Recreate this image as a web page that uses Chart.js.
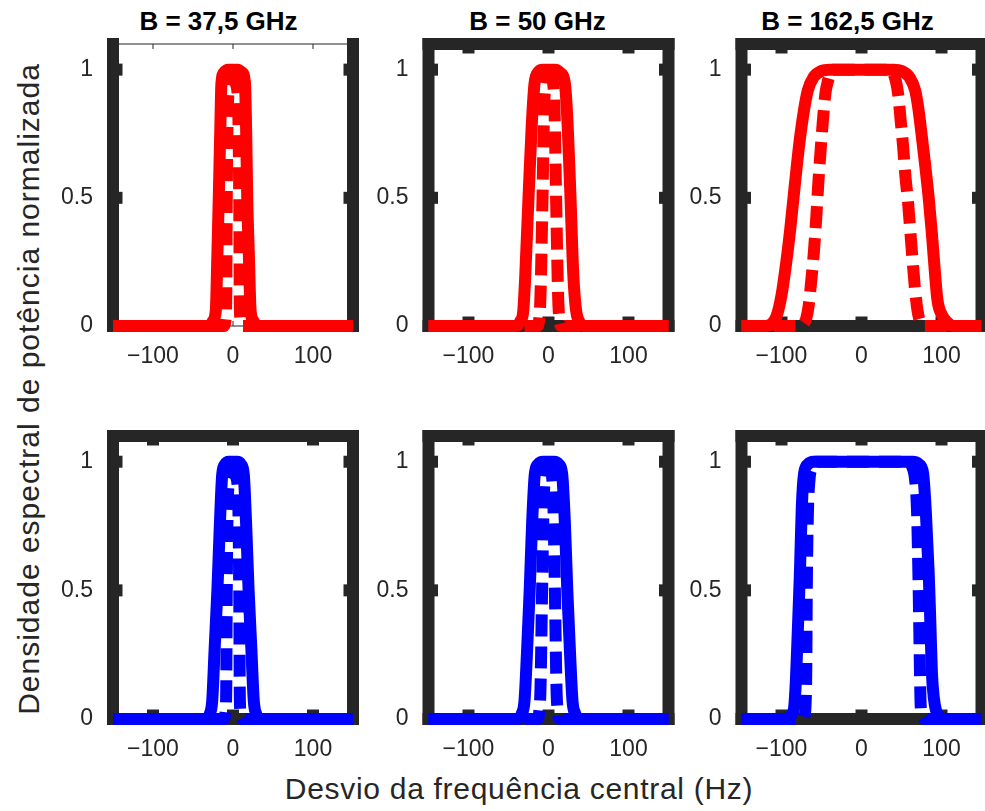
<!DOCTYPE html>
<html>
<head>
<meta charset="utf-8">
<script src="https://cdn.jsdelivr.net/npm/chart.js@4.4.1/dist/chart.umd.min.js"></script>
<style>
    html, body { margin: 0; padding: 0; background: #fff; }
    #wrap { position: relative; width: 985px; height: 811px; overflow: hidden; font-family: "Liberation Sans", Arial, sans-serif; }
    #wrap canvas { position: absolute; left: 0; top: 0; }
    .ttl { position: absolute; top: 8px; font-weight: bold; font-size: 26px; line-height: 26px; color: #000; white-space: nowrap; transform: translateX(-50%); }
    .xlab { position: absolute; left: 519px; top: 774px; font-size: 30px; line-height: 30px; letter-spacing: 0.7px; color: #262626; white-space: nowrap; transform: translateX(-50%); }
    .ylab { position: absolute; left: 29px; top: 389px; font-size: 30px; line-height: 30px; letter-spacing: 1px; color: #262626; white-space: nowrap; transform: translate(-50%, -50%) rotate(-90deg); }
</style>
</head>
<body>
<div id="wrap">
    <div class="ylab">Densidade espectral de potência normalizada</div>
    <div class="xlab">Desvio da frequência central (Hz)</div>
</div>
<script>
// tick values and titles
const xTicks = [-100, 0, 100];
const yTicks = [0, 0.5, 1];
const titles = ['B = 37,5 GHz', 'B = 50 GHz', 'B = 162,5 GHz'];

// red row (top)
const redSolid375X = [-150, -29, -25, -21.5, -19.5, -17.8, -16, -14.5, -11, -6, 0, 6, 11, 15, 16.5, 17.8, 19.8, 22, 25.5, 29.5, 150];
const redSolid375Y = [0, 0, 0.02, 0.06, 0.28, 0.5, 0.75, 0.945, 0.99, 1, 1, 1, 0.99, 0.945, 0.75, 0.5, 0.28, 0.06, 0.02, 0, 0];
const redDash375X = [-150, -11.5, -9.5, -8.5, -7.8, -6.5, -4, -1, 1, 4, 6.5, 7.8, 8.5, 9.5, 11.5, 150];
const redDash375Y = [0, 0, 0.02, 0.1, 0.5, 0.85, 0.94, 0.96, 0.96, 0.94, 0.85, 0.5, 0.1, 0.02, 0, 0];

const redSolid50X = [-150, -40, -35, -31.5, -29, -25, -21, -17.5, -13, -7, 0, 8, 14, 20.5, 24, 27.5, 31, 34.5, 38, 43, 150];
const redSolid50Y = [0, 0, 0.02, 0.06, 0.2, 0.5, 0.78, 0.945, 0.99, 1, 1, 1, 0.99, 0.945, 0.78, 0.5, 0.2, 0.06, 0.02, 0, 0];
const redDash50X = [-150, -14, -11.5, -10, -7.5, -5.5, -2.5, 1, 4.5, 7.5, 9.5, 12, 13.5, 16, 150];
const redDash50Y = [0, 0, 0.03, 0.12, 0.5, 0.85, 0.96, 0.97, 0.96, 0.85, 0.5, 0.12, 0.03, 0, 0];

const redSolid162X = [-150, -120, -112, -106, -100, -94, -89, -85, -81, -77, -72, -67, -60, -50, -40, 0, 40, 50, 60, 67, 71, 75, 79.5, 84, 88, 92, 95, 101, 107, 115, 150];
const redSolid162Y = [0, 0, 0.01, 0.04, 0.12, 0.25, 0.38, 0.5, 0.62, 0.73, 0.84, 0.92, 0.97, 0.995, 1, 1, 1, 0.995, 0.97, 0.92, 0.85, 0.75, 0.63, 0.5, 0.36, 0.2, 0.1, 0.04, 0.015, 0, 0];
const redDash162X = [-150, -76, -72, -69, -66, -63, -59.5, -56, -54, -51, -48, -45, -42, -36, 0, 36, 43, 46, 49, 52, 55, 58, 61, 64, 67, 70, 73, 77, 150];
const redDash162Y = [0, 0, 0.01, 0.03, 0.08, 0.17, 0.29, 0.45, 0.555, 0.69, 0.81, 0.91, 0.955, 1, 1, 1, 0.955, 0.9, 0.8, 0.7, 0.58, 0.49, 0.37, 0.25, 0.14, 0.06, 0.02, 0, 0];

// blue row (bottom)
const blueSolid375X = [-150, -33, -29, -26, -23, -19.5, -16.5, -13.5, -10, -5, 0, 5, 10, 13.5, 16.5, 19.5, 23, 26, 29, 33, 150];
const blueSolid375Y = [0, 0, 0.02, 0.07, 0.27, 0.5, 0.75, 0.95, 0.99, 1, 1, 1, 0.99, 0.95, 0.75, 0.5, 0.27, 0.07, 0.02, 0, 0];
const blueDash375X = [-150, -11.5, -9.5, -8.5, -7.8, -6.5, -4, -1, 1, 4, 6.5, 7.8, 8.5, 9.5, 11.5, 150];
const blueDash375Y = [0, 0, 0.02, 0.1, 0.5, 0.85, 0.94, 0.96, 0.96, 0.94, 0.85, 0.5, 0.1, 0.02, 0, 0];

const blueSolid50X = [-150, -38, -33.5, -30, -27, -23.5, -20.5, -17, -13, -7, 0, 7, 13, 17, 20.5, 23.5, 27, 30, 33.5, 38, 150];
const blueSolid50Y = [0, 0, 0.02, 0.07, 0.25, 0.5, 0.76, 0.955, 0.99, 1, 1, 1, 0.99, 0.955, 0.76, 0.5, 0.25, 0.07, 0.02, 0, 0];
const blueDash50X = [-150, -14, -11.5, -10, -8, -6, -3, 0, 3, 6, 8, 10, 11.5, 14, 150];
const blueDash50Y = [0, 0, 0.03, 0.12, 0.5, 0.85, 0.96, 0.97, 0.96, 0.85, 0.5, 0.12, 0.03, 0, 0];

const blueSolid162X = [-150, -95, -89, -86, -84, -82, -80, -77, -74.6, -71.7, -67, -60, 0, 64, 72, 77, 80.5, 84, 86, 88, 90.5, 93, 97, 103, 150];
const blueSolid162Y = [0, 0, 0.01, 0.025, 0.05, 0.15, 0.31, 0.567, 0.826, 0.956, 0.99, 1, 1, 1, 0.99, 0.956, 0.8, 0.567, 0.38, 0.18, 0.08, 0.035, 0.01, 0, 0];
const blueDash162X = [-150, -74, -71.5, -70, -69, -68.4, -67, -65, -62, -57, -50, 0, 52, 59, 64, 67, 69.5, 71.5, 73, 74, 76, 79, 150];
const blueDash162Y = [0, 0, 0.01, 0.05, 0.2, 0.5, 0.8, 0.93, 0.975, 1, 1, 1, 1, 1, 0.975, 0.93, 0.8, 0.5, 0.2, 0.05, 0.01, 0, 0];

// layout of the 3x2 grid (pixels)
const W = 985, H = 811;
const colLeft = [113, 428.5, 741.5];
const plotW = 240;
const rowTop = [44, 436];
const rowBottom = [326, 719];
const titleCenter = [218.5, 537.5, 847.5];
const Y_AXIS_W = 60, X_AXIS_H = 45;
const axisColor = '#262626';
const fontFamily = '"Liberation Sans", Arial, sans-serif';

const panels = [
    { row: 0, col: 0, color: '#ff0000', solid: [redSolid375X, redSolid375Y], dash: [redDash375X, redDash375Y], thin: true },
    { row: 0, col: 1, color: '#ff0000', solid: [redSolid50X, redSolid50Y], dash: [redDash50X, redDash50Y] },
    { row: 0, col: 2, color: '#ff0000', solid: [redSolid162X, redSolid162Y], dash: [redDash162X, redDash162Y] },
    { row: 1, col: 0, color: '#0000ff', solid: [blueSolid375X, blueSolid375Y], dash: [blueDash375X, blueDash375Y] },
    { row: 1, col: 1, color: '#0000ff', solid: [blueSolid50X, blueSolid50Y], dash: [blueDash50X, blueDash50Y] },
    { row: 1, col: 2, color: '#0000ff', solid: [blueSolid162X, blueSolid162Y], dash: [blueDash162X, blueDash162Y] }
];

function toPoints(xs, ys) {
    return xs.map((x, i) => ({ x: x, y: ys[i] }));
}

// matlab style box with inward ticks, drawn under the lines
const boxPlugin = {
    id: 'matlabBox',
    beforeDatasetsDraw(chart, args, opts) {
        const { ctx, chartArea: a, scales } = chart;
        const xs = xTicks.map(v => scales.x.getPixelForValue(v));
        const ys = yTicks.map(v => scales.y.getPixelForValue(v));
        const w = 12, tl = 9.5;
        ctx.save();
        ctx.fillStyle = axisColor;
        ctx.fillRect(a.left - w / 2, a.top - w / 2, w, a.height + w);
        ctx.fillRect(a.right - w / 2, a.top - w / 2, w, a.height + w);
        ys.forEach(py => {
            ctx.fillRect(a.left, py - w / 2, tl, w);
            ctx.fillRect(a.right - tl, py - w / 2, tl, w);
        });
        if (opts.thin) {
            ctx.fillRect(a.left, a.top - 0.5, a.width, 1);
            ctx.fillRect(a.left, a.bottom - 0.5, a.width, 1);
            xs.forEach(px => {
                ctx.fillRect(px - 0.5, a.top, 1, 5);
                ctx.fillRect(px - 0.5, a.bottom - 5, 1, 5);
            });
        } else {
            ctx.fillRect(a.left - w / 2, a.top - w / 2, a.width + w, w);
            ctx.fillRect(a.left - w / 2, a.bottom - w / 2, a.width + w, w);
            xs.forEach(px => {
                ctx.fillRect(px - w / 2, a.top, w, tl);
                ctx.fillRect(px - w / 2, a.bottom - tl, w, tl);
            });
        }
        ctx.restore();
    }
};

const wrap = document.getElementById('wrap');

titles.forEach((t, i) => {
    const d = document.createElement('div');
    d.className = 'ttl';
    d.style.left = titleCenter[i] + 'px';
    d.textContent = t;
    wrap.appendChild(d);
});

panels.forEach(p => {
    const canvas = document.createElement('canvas');
    canvas.width = W;
    canvas.height = H;
    wrap.appendChild(canvas);

    const left = colLeft[p.col];
    const tickFont = { family: fontFamily, size: 23 };

    new Chart(canvas, {
        type: 'line',
        data: {
            datasets: [
                {
                    data: toPoints(p.solid[0], p.solid[1]),
                    borderColor: p.color,
                    borderWidth: 12,
                    borderJoinStyle: 'round',
                    pointRadius: 0,
                    cubicInterpolationMode: 'monotone',
                    fill: false,
                    clip: false
                },
                {
                    data: toPoints(p.dash[0], p.dash[1]),
                    borderColor: p.color,
                    borderWidth: 12,
                    borderDash: [22, 10],
                    pointRadius: 0,
                    cubicInterpolationMode: 'monotone',
                    fill: false,
                    clip: false
                }
            ]
        },
        options: {
            responsive: false,
            animation: false,
            events: [],
            layout: {
                padding: {
                    left: left - Y_AXIS_W,
                    right: W - left - plotW,
                    top: rowTop[p.row],
                    bottom: H - rowBottom[p.row] - X_AXIS_H
                }
            },
            plugins: {
                legend: { display: false },
                tooltip: { enabled: false },
                matlabBox: { thin: !!p.thin }
            },
            scales: {
                x: {
                    type: 'linear',
                    min: -150,
                    max: 150,
                    afterBuildTicks: s => { s.ticks = xTicks.map(v => ({ value: v })); },
                    afterFit: s => { s.height = X_AXIS_H; },
                    grid: { display: false },
                    border: { display: false },
                    ticks: {
                        padding: 9,
                        color: axisColor,
                        font: tickFont,
                        maxRotation: 0,
                        autoSkip: false,
                        callback: v => (v < 0 ? '\u2212' + Math.abs(v) : String(v))
                    }
                },
                y: {
                    type: 'linear',
                    min: 0,
                    max: 1.1,
                    afterBuildTicks: s => { s.ticks = yTicks.map(v => ({ value: v })); },
                    afterFit: s => { s.width = Y_AXIS_W; },
                    grid: { display: false },
                    border: { display: false },
                    ticks: {
                        padding: 12,
                        color: axisColor,
                        font: tickFont,
                        autoSkip: false,
                        callback: v => String(v)
                    }
                }
            }
        },
        plugins: [boxPlugin]
    });
});
</script>
</body>
</html>
